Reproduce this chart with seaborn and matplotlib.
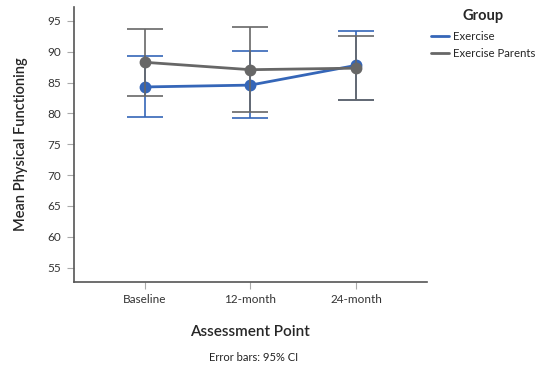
import numpy as np
import pandas as pd
import matplotlib
matplotlib.use("Agg")
import matplotlib.pyplot as plt
import seaborn as sns
from matplotlib.lines import Line2D

points = ["Baseline", "12-month", "24-month"]
groups = ["Exercise", "Exercise Parents"]
ex_mean = [84.3, 84.6, 87.8]
ex_low = [79.35, 79.2, 82.2]
ex_high = [89.3, 90.1, 93.3]
par_mean = [88.3, 87.1, 87.35]
par_low = [82.9, 80.3, 82.2]
par_high = [93.7, 94.0, 92.6]
colors = {"Exercise": "#3566b8", "Exercise Parents": "#676767"}

df = pd.DataFrame({
    "Assessment Point": points * 2,
    "Group": [groups[0]] * 3 + [groups[1]] * 3,
    "mean": ex_mean + par_mean,
    "low": ex_low + par_low,
    "high": ex_high + par_high,
})

sns.set_style("white")
plt.rcParams["font.family"] = ["Lato", "DejaVu Sans"]

fig = plt.figure(figsize=(5.45, 3.72), dpi=100)
ax = fig.add_axes([0.1358, 0.2427, 0.6472, 0.7373])

for g in groups:
    sub = df[df["Group"] == g]
    xs = np.arange(len(points))
    m = sub["mean"].to_numpy()
    ax.errorbar(xs, m, yerr=[m - sub["low"].to_numpy(), sub["high"].to_numpy() - m],
                fmt="none", ecolor=colors[g], elinewidth=1.2, capsize=13, capthick=1.2, zorder=2)
    sns.pointplot(data=sub, x="Assessment Point", y="mean", color=colors[g], order=points,
                  errorbar=None, markers="o", markersize=7, linewidth=2, ax=ax)

if ax.get_legend() is not None:
    ax.get_legend().remove()

ax.set_xlim(-0.67, 2.67)
ax.set_ylim(52.7, 97.2)
ax.set_yticks(range(55, 96, 5))
for s in ["top", "right"]:
    ax.spines[s].set_visible(False)
for s in ["left", "bottom"]:
    ax.spines[s].set_color("#555555")
    ax.spines[s].set_linewidth(1.2)
ax.tick_params(axis="both", which="both", length=5, color="#aaaaaa", labelsize=8.5,
               labelcolor="#333333", direction="out", left=True, bottom=True, pad=4)
ax.set_xlabel("Assessment Point", fontsize=11, fontweight="semibold", labelpad=14)
ax.set_ylabel("Mean Physical Functioning", fontsize=10.5, fontweight="semibold", labelpad=14)

handles = [Line2D([0], [0], color=colors[g], lw=2) for g in groups]
leg = fig.legend(handles, groups, title="Group", loc="upper left", bbox_to_anchor=(0.772, 1.003),
                 frameon=False, fontsize=8.2, title_fontproperties={"weight": "bold", "size": 10.5},
                 handlelength=1.6, handletextpad=0.3, labelspacing=0.45)
leg._legend_box.align = "center"
leg._legend_box.sep = 6
fig.text(0.465, 0.03, "Error bars: 95% CI", ha="center", fontsize=8, color="#222222")

fig.savefig("out.png", dpi=100)
